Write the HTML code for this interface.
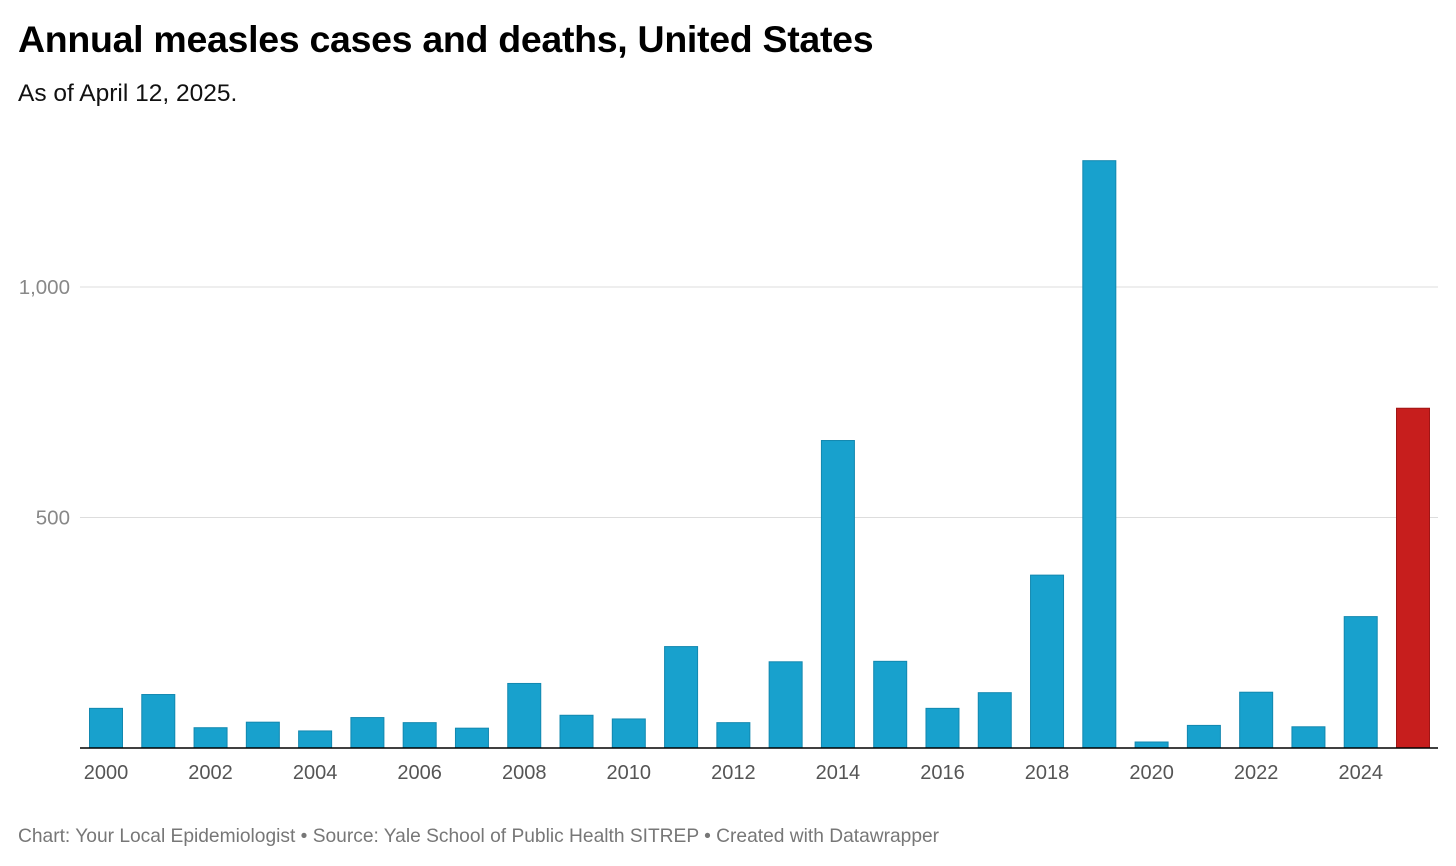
<!DOCTYPE html>
<html><head><meta charset="utf-8"><style>
body{margin:0;background:#fff;font-family:"Liberation Sans",sans-serif;}
.t{position:absolute;left:18px;top:18px;font-size:37.5px;font-weight:bold;color:#000;letter-spacing:-0.3px}
.s{position:absolute;left:18px;top:80px;font-size:24.5px;color:#111}
.f{position:absolute;left:18px;top:826px;font-size:19.2px;color:#777}
</style></head><body>
<div class="t">Annual measles cases and deaths, United States</div>
<div class="s">As of April 12, 2025.</div>
<svg id="c" width="1456" height="866" style="position:absolute;left:0;top:0"></svg>
<div class="f">Chart: Your Local Epidemiologist • Source: Yale School of Public Health SITREP • Created with Datawrapper</div>
<script>
const years=[2000,2001,2002,2003,2004,2005,2006,2007,2008,2009,2010,2011,2012,2013,2014,2015,2016,2017,2018,2019,2020,2021,2022,2023,2024,2025];
const cases=[86,116,44,56,37,66,55,43,140,71,63,220,55,187,667,188,86,120,375,1274,13,49,121,46,285,737];
const yTicks=[500,1000];
const xTickYears=[2000,2002,2004,2006,2008,2010,2012,2014,2016,2018,2020,2022,2024];
const NS="http://www.w3.org/2000/svg";
const svg=document.getElementById('c');
const y0=748,pxPer=230.5/500;
const y=v=>y0-v*pxPer;
const x=yr=>106+(yr-2000)*52.28;
function mk(t,a){const e=document.createElementNS(NS,t);for(const k in a)e.setAttribute(k,a[k]);svg.appendChild(e);return e;}
yTicks.forEach(v=>{
 const l=mk('line',{x1:80,x2:1438,y1:y(v),y2:y(v),stroke:'#ddd','stroke-width':1});
 
 
 const t=mk('text',{x:70,y:y(v)+7,'text-anchor':'end','font-size':20.5,fill:'#888','font-family':'Liberation Sans'});
 t.textContent=v.toLocaleString('en-US');
 
 
});
years.forEach((yr,i)=>{
 const r=mk('rect',{x:x(yr)-16.5,y:y(cases[i]),width:33,height:cases[i]*pxPer,fill:yr===2025?'#c71e1d':'#18a1cd',stroke:yr===2025?'#a01515':'#1288b0','stroke-width':1});
 
 
});
const b=mk('line',{x1:80,x2:1438,y1:y0,y2:y0,stroke:'#000','stroke-width':1.5});


xTickYears.forEach(yr=>{
 const t=mk('text',{x:x(yr),y:779,'text-anchor':'middle','font-size':20,fill:'#555','font-family':'Liberation Sans'});
 t.textContent=yr;
 
 
});
</script>
</body></html>
